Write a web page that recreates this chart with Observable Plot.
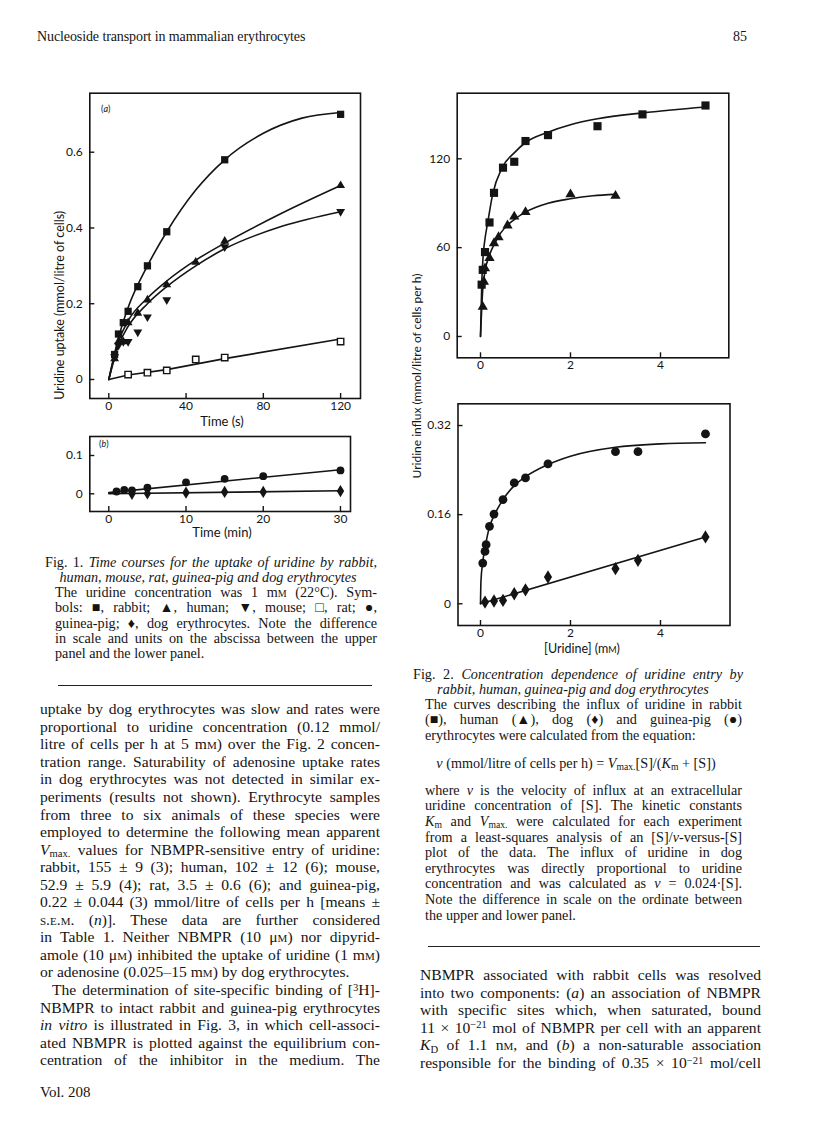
<!DOCTYPE html>
<html><head><meta charset="utf-8">
<script src="https://cdn.jsdelivr.net/npm/d3@7"></script>
<script src="https://cdn.jsdelivr.net/npm/@observablehq/plot@0.6"></script>
<style>
html,body{margin:0;padding:0;background:#fff;}
#page{position:relative;width:816px;height:1136px;overflow:hidden;font-family:"Liberation Serif","Times New Roman",serif;color:#141414;}
.ln{position:absolute;white-space:nowrap;line-height:1;}
.fig{position:absolute;}
.ax{position:absolute;font-family:Lato,"Open Sans",sans-serif;white-space:nowrap;line-height:1;color:#141414;}
.sc{font-variant:small-caps;}
.rule{position:absolute;height:0;border-top:1.3px solid #222;}
sub{font-size:68%;vertical-align:baseline;position:relative;top:0.2em;line-height:0;}
sup{font-size:68%;vertical-align:baseline;position:relative;top:-0.42em;line-height:0;}
</style></head><body><div id="page"></div>
<script>
// ================= DATA =================
const headerTitle = "Nucleoside transport in mammalian erythrocytes";
const pageNumber = "85";
const volumeLabel = "Vol. 208";

// Fig. 1(a): uridine uptake (mmol/litre of cells) vs time (s)
const rabbitTime   = [3, 5, 7.5, 10, 15, 20, 30, 60, 120];
const rabbitUptake = [0.066, 0.12, 0.15, 0.18, 0.245, 0.30, 0.39, 0.58, 0.70];
const humanTime    = [3, 5, 7.5, 10, 15, 20, 30, 45, 60, 120];
const humanUptake  = [0.055, 0.10, 0.10, 0.15, 0.175, 0.21, 0.25, 0.31, 0.365, 0.512];
const mouseTime    = [3, 5, 7.5, 10, 15, 20, 30, 60, 120];
const mouseUptake  = [0.06, 0.09, 0.10, 0.10, 0.125, 0.165, 0.21, 0.35, 0.443];
const ratTime      = [10, 20, 30, 45, 60, 120];
const ratUptake    = [0.013, 0.018, 0.024, 0.053, 0.058, 0.10];
// fitted curves
const rabbitFitTime   = [0, 5, 10, 20, 30, 45, 60, 80, 100, 120];
const rabbitFitUptake = [0, 0.11, 0.19, 0.30, 0.39, 0.50, 0.58, 0.65, 0.69, 0.705];
const humanFitTime    = [0, 5, 10, 20, 30, 45, 60, 90, 120];
const humanFitUptake  = [0, 0.10, 0.155, 0.215, 0.26, 0.315, 0.36, 0.44, 0.512];
const mouseFitTime    = [0, 5, 10, 20, 30, 45, 60, 90, 120];
const mouseFitUptake  = [0, 0.09, 0.14, 0.20, 0.245, 0.30, 0.345, 0.405, 0.443];
const ratFitTime      = [0, 10, 30, 60, 120];
const ratFitUptake    = [0, 0.012, 0.026, 0.055, 0.107];
const fig1aXTicks = [0, 40, 80, 120];
const fig1aYTicks = [0, 0.2, 0.4, 0.6];

// Fig. 1(b): uptake vs time (min)
const guineaTime   = [1, 2, 3, 5, 10, 15, 20, 30];
const guineaUptake = [0.006, 0.010, 0.009, 0.016, 0.030, 0.039, 0.046, 0.061];
const dogTime      = [3, 5, 10, 15, 20, 30];
const dogUptake    = [0.0, 0.001, 0.003, 0.005, 0.005, 0.007];
const guineaFitTime   = [0, 30];
const guineaFitUptake = [0.003, 0.063];
const dogFitTime      = [0, 30];
const dogFitUptake    = [0.0, 0.008];
const fig1bXTicks = [0, 10, 20, 30];
const fig1bYTicks = [0, 0.1];

// Fig. 2 upper: influx (mmol/litre of cells per h) vs [uridine] (mM)
const rabbitConc   = [0.025, 0.05, 0.1, 0.2, 0.3, 0.5, 0.75, 1.0, 1.5, 2.6, 3.6, 5.0];
const rabbitInflux = [35, 45, 57, 77, 97, 114, 118, 132, 136, 142, 150, 156];
const humanConc    = [0.05, 0.075, 0.1, 0.2, 0.3, 0.4, 0.6, 0.75, 1.0, 2.0, 3.0];
const humanInflux  = [20, 37, 46, 53, 63, 67, 75, 81, 84, 96, 95];
const rabbitFitConc   = [0, 0.03, 0.06, 0.1, 0.16, 0.27, 0.48, 0.75, 1.0, 1.5, 2.0, 2.6, 3.6, 5.0];
const rabbitFitInflux = [0, 38, 55, 66, 77, 96, 114, 124, 131, 138, 143, 147, 151, 155];
const humanFitConc    = [0, 0.05, 0.1, 0.2, 0.3, 0.45, 0.75, 1.0, 1.5, 2.0, 2.5, 3.0];
const humanFitInflux  = [0, 32, 44, 55, 62, 70, 79, 84, 90, 93, 95, 96];
const fig2aXTicks = [0, 2, 4];
const fig2aYTicks = [0, 60, 120];

// Fig. 2 lower
const guineaConc   = [0.05, 0.1, 0.125, 0.2, 0.3, 0.5, 0.75, 1.0, 1.5, 3.0, 3.5, 5.0];
const guineaInflux = [0.073, 0.094, 0.106, 0.139, 0.161, 0.187, 0.217, 0.226, 0.251, 0.273, 0.273, 0.305];
const dogConc      = [0.1, 0.3, 0.5, 0.75, 1.0, 1.5, 3.0, 3.5, 5.0];
const dogInflux    = [0.003, 0.005, 0.006, 0.018, 0.025, 0.048, 0.063, 0.078, 0.12];
const guineaFitConc   = [0, 0.01, 0.05, 0.1, 0.2, 0.3, 0.5, 0.75, 1.0, 1.5, 2.0, 3.0, 4.0, 5.0];
const guineaFitInflux = [0, 0.04, 0.075, 0.10, 0.138, 0.158, 0.187, 0.212, 0.228, 0.25, 0.265, 0.281, 0.287, 0.289];
const dogFitConc   = [0, 5];
const dogFitInflux = [0, 0.12];
const fig2bXTicks = [0, 2, 4];
const fig2bYTicks = [0, 0.16, 0.32];

// Texts
const fig1Caption = [
  "Fig. 1. <i>Time courses for the uptake of uridine by rabbit,</i>",
  "<i>human, mouse, rat, guinea-pig and dog erythrocytes</i>",
  "The uridine concentration was 1 m<span class='sc'>m</span> (22°C). Sym-",
  "bols: ■, rabbit; ▲, human; ▼, mouse; □, rat; ●,",
  "guinea-pig; ♦, dog erythrocytes. Note the difference",
  "in scale and units on the abscissa between the upper",
  "panel and the lower panel."
];
const fig2Caption = [
  "Fig. 2. <i>Concentration dependence of uridine entry by</i>",
  "<i>rabbit, human, guinea-pig and dog erythrocytes</i>",
  "The curves describing the influx of uridine in rabbit",
  "(■), human (▲), dog (♦) and guinea-pig (●)",
  "erythrocytes were calculated from the equation:"
];
const fig2Equation = "<i>v</i> (mmol/litre of cells per h) = <i>V</i><sub>max.</sub>[S]/(<i>K</i><sub>m</sub> + [S])";
const fig2CaptionRest = [
  "where <i>v</i> is the velocity of influx at an extracellular",
  "uridine concentration of [S]. The kinetic constants",
  "<i>K</i><sub>m</sub> and <i>V</i><sub>max.</sub> were calculated for each experiment",
  "from a least-squares analysis of an [S]/<i>v</i>-versus-[S]",
  "plot of the data. The influx of uridine in dog",
  "erythrocytes was directly proportional to uridine",
  "concentration and was calculated as <i>v</i> = 0.024·[S].",
  "Note the difference in scale on the ordinate between",
  "the upper and lower panel."
];
const leftBody = [
  "uptake by dog erythrocytes was slow and rates were",
  "proportional to uridine concentration (0.12 mmol/",
  "litre of cells per h at 5 m<span class='sc'>m</span>) over the Fig. 2 concen-",
  "tration range. Saturability of adenosine uptake rates",
  "in dog erythrocytes was not detected in similar ex-",
  "periments (results not shown). Erythrocyte samples",
  "from three to six animals of these species were",
  "employed to determine the following mean apparent",
  "<i>V</i><sub>max.</sub> values for NBMPR-sensitive entry of uridine:",
  "rabbit, 155 ± 9 (3); human, 102 ± 12 (6); mouse,",
  "52.9 ± 5.9 (4); rat, 3.5 ± 0.6 (6); and guinea-pig,",
  "0.22 ± 0.044 (3) mmol/litre of cells per h [means ±",
  "<span class='sc'>s.e.m.</span> (<i>n</i>)]. These data are further considered",
  "in Table 1. Neither NBMPR (10 μ<span class='sc'>m</span>) nor dipyrid-",
  "amole (10 μ<span class='sc'>m</span>) inhibited the uptake of uridine (1 m<span class='sc'>m</span>)",
  "or adenosine (0.025–15 m<span class='sc'>m</span>) by dog erythrocytes.",
  "The determination of site-specific binding of [<sup>3</sup>H]-",
  "NBMPR to intact rabbit and guinea-pig erythrocytes",
  "<i>in vitro</i> is illustrated in Fig. 3, in which cell-associ-",
  "ated NBMPR is plotted against the equilibrium con-",
  "centration of the inhibitor in the medium. The"
];
const rightBody = [
  "NBMPR associated with rabbit cells was resolved",
  "into two components: (<i>a</i>) an association of NBMPR",
  "with specific sites which, when saturated, bound",
  "11 × 10<sup>−21</sup> mol of NBMPR per cell with an apparent",
  "<i>K</i><sub>D</sub> of 1.1 n<span class='sc'>m</span>, and (<i>b</i>) a non-saturable association",
  "responsible for the binding of 0.35 × 10<sup>−21</sup> mol/cell"
];
const fig1aYTitle = "Uridine uptake (mmol/litre of cells)";
const fig1aXTitle = "Time (s)";
const fig1bXTitle = "Time (min)";
const fig2YTitle = "Uridine influx (mmol/litre of cells per h)";
const fig2XTitle = "[Uridine] (m<span class='sc'>m</span>)";

// ================= DRAWING =================
const page = document.getElementById("page");
const INK = "#141414";
const pts = (xs, ys) => xs.map((x, i) => ({x, y: ys[i]}));

const sqrt3 = Math.sqrt(3);
const triangleDown = {draw(c, size) {
  const y = Math.sqrt(size / (sqrt3 * 3));
  c.moveTo(0, 2 * y); c.lineTo(-sqrt3 * y, -y); c.lineTo(sqrt3 * y, -y); c.closePath();
}};
const diamondTall = {draw(c, size) {
  const s = Math.sqrt(size);
  const w = s * 0.5, h = s * 0.82;
  c.moveTo(0, -h); c.lineTo(w, 0); c.lineTo(0, h); c.lineTo(-w, 0); c.closePath();
}};

function fmt(d) { return d === 0 ? "0" : String(d); }

function chart({left, top, width, height, frame, xdom, ydom, xticks, yticks, marks}) {
  const [fl, ft, fr, fb] = frame;
  const svg = Plot.plot({
    width, height,
    marginLeft: fl - left, marginTop: ft - top,
    marginRight: left + width - fr, marginBottom: top + height - fb,
    x: {domain: xdom}, y: {domain: ydom},
    style: {fontFamily: "Lato, 'Open Sans', sans-serif", fontSize: "12px", color: INK, background: "transparent", overflow: "visible"},
    marks: [
      Plot.axisX(xticks, {anchor: "bottom", tickSize: -5, tickPadding: 8, tickFormat: fmt, label: null, strokeWidth: 1.4}),
      Plot.axisY(yticks, {anchor: "left", tickSize: -5, tickPadding: 12, tickFormat: fmt, label: null, strokeWidth: 1.4}),
      Plot.frame({stroke: INK, strokeWidth: 1.6}),
      ...marks
    ]
  });
  const holder = document.createElement("div");
  holder.className = "fig";
  holder.style.left = left + "px"; holder.style.top = top + "px";
  holder.appendChild(svg);
  page.appendChild(holder);
}

const lineOpts = {x: "x", y: "y", stroke: INK, strokeWidth: 1.6, curve: "monotone-x"};
const dotOpts = (symbol, r, extra = {}) => ({x: "x", y: "y", symbol, r, fill: INK, stroke: "none", ...extra});

// Fig 1(a)
chart({
  left: 40, top: 80, width: 330, height: 340,
  frame: [89.3, 92.7, 360, 398],
  xdom: [-9.84, 130.3], ydom: [-0.0502, 0.7558],
  xticks: fig1aXTicks, yticks: fig1aYTicks,
  marks: [
    Plot.line(pts(rabbitFitTime, rabbitFitUptake), lineOpts),
    Plot.line(pts(humanFitTime, humanFitUptake), lineOpts),
    Plot.line(pts(mouseFitTime, mouseFitUptake), lineOpts),
    Plot.line(pts(ratFitTime, ratFitUptake), {...lineOpts, curve: "linear"}),
    Plot.dot(pts(ratTime, ratUptake), dotOpts("square", 3.6, {fill: "white", stroke: INK, strokeWidth: 1.4})),
    Plot.dot(pts(mouseTime, mouseUptake), dotOpts(triangleDown, 3.3)),
    Plot.dot(pts(humanTime, humanUptake), dotOpts("triangle", 3.3)),
    Plot.dot(pts(rabbitTime, rabbitUptake), dotOpts("square", 4.1))
  ]
});

// Fig 1(b)
chart({
  left: 40, top: 425, width: 320, height: 105,
  frame: [89.3, 436, 350, 511],
  xdom: [-2.46, 31.3], ydom: [-0.0462, 0.1496],
  xticks: fig1bXTicks, yticks: fig1bYTicks,
  marks: [
    Plot.line(pts(guineaFitTime, guineaFitUptake), {...lineOpts, curve: "linear"}),
    Plot.line(pts(dogFitTime, dogFitUptake), {...lineOpts, curve: "linear"}),
    Plot.dot(pts(guineaTime, guineaUptake), dotOpts("circle", 3.9)),
    Plot.dot(pts(dogTime, dogUptake), dotOpts(diamondTall, 4.2))
  ]
});

// Fig 2 upper
chart({
  left: 400, top: 80, width: 340, height: 300,
  frame: [456.7, 92.7, 728.3, 357.3],
  xdom: [-0.518, 5.518], ydom: [-14.4, 164.3],
  xticks: fig2aXTicks, yticks: fig2aYTicks,
  marks: [
    Plot.line(pts(rabbitFitConc, rabbitFitInflux), lineOpts),
    Plot.line(pts(humanFitConc, humanFitInflux), lineOpts),
    Plot.dot(pts(humanConc, humanInflux), dotOpts("triangle", 3.8)),
    Plot.dot(pts(rabbitConc, rabbitInflux), dotOpts("square", 4.6))
  ]
});

// Fig 2 lower
chart({
  left: 400, top: 390, width: 340, height: 255,
  frame: [457.5, 403.3, 729.5, 625],
  xdom: [-0.5, 5.545], ydom: [-0.039, 0.359],
  xticks: fig2bXTicks, yticks: fig2bYTicks,
  marks: [
    Plot.line(pts(guineaFitConc, guineaFitInflux), lineOpts),
    Plot.line(pts(dogFitConc, dogFitInflux), {...lineOpts, curve: "linear"}),
    Plot.dot(pts(guineaConc, guineaInflux), dotOpts("circle", 4.4)),
    Plot.dot(pts(dogConc, dogInflux), dotOpts(diamondTall, 4.6))
  ]
});

// ---------- text helpers ----------
function addText(html, {x, cy, fs, cls = "ln", w = null, justify = false, center = false, style = ""}) {
  const d = document.createElement("div");
  d.className = cls;
  d.innerHTML = html;
  d.style.cssText += `font-size:${fs}px;${style}`;
  page.appendChild(d);
  const r = d.getBoundingClientRect();
  if (justify && w) {
    const spaces = (d.textContent.match(/ /g) || []).length;
    if (spaces) d.style.wordSpacing = Math.max(-1.2, (w - r.width) / spaces) + "px";
  }
  const r2 = d.getBoundingClientRect();
  d.style.left = (center ? x - r2.width / 2 : x) + "px";
  d.style.top = (cy - r2.height / 2) + "px";
  return d;
}
function addRotated(html, cx, cy, fs) {
  const d = document.createElement("div");
  d.className = "ax";
  d.innerHTML = html;
  d.style.fontSize = fs + "px";
  page.appendChild(d);
  const r = d.getBoundingClientRect();
  d.style.left = (cx - r.width / 2) + "px";
  d.style.top = (cy - r.height / 2) + "px";
  d.style.transform = "rotate(-90deg)";
}

// header
addText(headerTitle, {x: 37, cy: 37, fs: 14, style: "letter-spacing:-0.1px;"});
addText(pageNumber, {x: 733, cy: 37, fs: 14});

// panel labels & axis titles
addText("(<i>a</i>)", {x: 101, cy: 108, fs: 9, cls: "ax"});
addText("(<i>b</i>)", {x: 99, cy: 443, fs: 9, cls: "ax"});
addText(fig1aXTitle, {x: 222, cy: 421, fs: 13, cls: "ax", center: true});
addText(fig1bXTitle, {x: 222, cy: 532, fs: 13, cls: "ax", center: true});
addText(fig2XTitle, {x: 582, cy: 649, fs: 12.5, cls: "ax", center: true});
addRotated(fig1aYTitle, 60, 305, 12.5);
addRotated(fig2YTitle, 417, 376, 12);

// Fig 1 caption
const capFs = 14.2, capDy = 15.2;
fig1Caption.forEach((t, i) => {
  const cy = 562 + i * capDy;
  if (i === 0) addText(t, {x: 45, cy, fs: capFs, w: 332, justify: true});
  else if (i === 1) addText(t, {x: 208, cy, fs: capFs, center: true});
  else if (i < fig1Caption.length - 1) addText(t, {x: 55, cy, fs: capFs, w: 322, justify: true});
  else addText(t, {x: 55, cy, fs: capFs});
});

// rules
function rule(x, y, w) {
  const d = document.createElement("div");
  d.className = "rule"; d.style.left = x + "px"; d.style.top = y + "px"; d.style.width = w + "px";
  page.appendChild(d);
}
rule(58, 685, 314);

// left body
const bodyFs = 15.6, bodyDy = 17.55;
leftBody.forEach((t, i) => {
  const cy = 709 + i * bodyDy;
  if (i === 15) addText(t, {x: 40, cy, fs: bodyFs});
  else if (i === 16) addText(t, {x: 52, cy, fs: bodyFs, w: 328, justify: true});
  else addText(t, {x: 40, cy, fs: bodyFs, w: 340, justify: true});
});
addText(volumeLabel, {x: 40, cy: 1092, fs: 15});

// Fig 2 caption
fig2Caption.forEach((t, i) => {
  const cy = 674 + i * capDy;
  if (i === 0) addText(t, {x: 413, cy, fs: capFs, w: 330, justify: true});
  else if (i === 1) addText(t, {x: 573, cy, fs: capFs, center: true});
  else if (i === 4) addText(t, {x: 425, cy, fs: capFs});
  else addText(t, {x: 425, cy, fs: capFs, w: 317, justify: true});
});
addText(fig2Equation, {x: 576, cy: 763, fs: capFs, center: true});
fig2CaptionRest.forEach((t, i) => {
  const cy = 790 + i * 15.6;
  if (i === fig2CaptionRest.length - 1) addText(t, {x: 425, cy, fs: capFs});
  else addText(t, {x: 425, cy, fs: capFs, w: 317, justify: true});
});
rule(428, 946, 332);

// right body
rightBody.forEach((t, i) => {
  const cy = 975 + i * bodyDy;
  addText(t, {x: 420, cy, fs: bodyFs, w: 341, justify: true});
});
</script></body></html>
